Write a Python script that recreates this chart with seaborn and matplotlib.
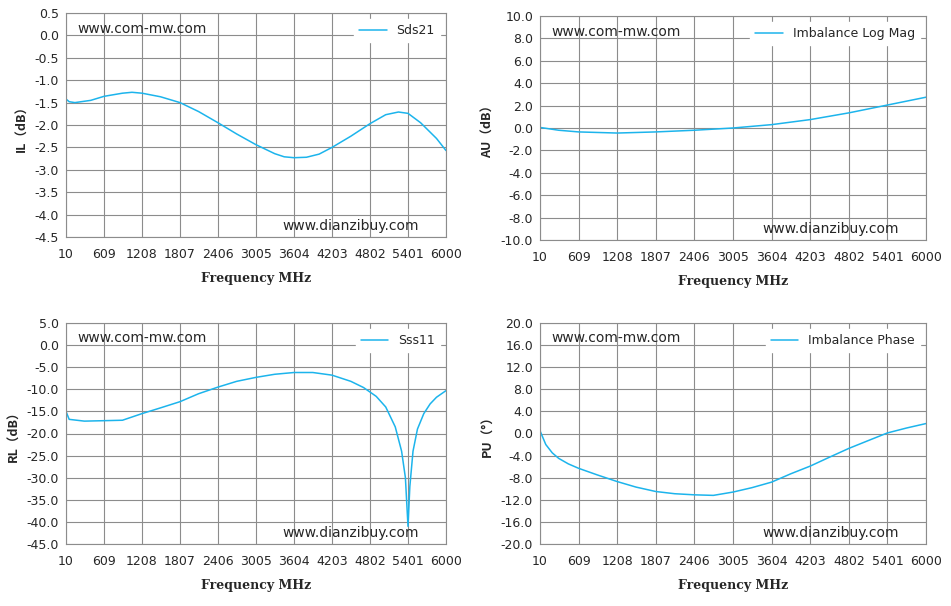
import matplotlib
matplotlib.use("Agg")
import matplotlib.pyplot as plt
import seaborn as sns
import pandas as pd
import numpy as np

sns.set_theme(style="white")
plt.rcParams['font.family'] = ['DejaVu Sans']

xticks = [10, 609, 1208, 1807, 2406, 3005, 3604, 4203, 4802, 5401, 6000]

f_il = [10, 60, 150, 400, 609, 900, 1050, 1208, 1500, 1807, 2100, 2406, 2700, 3005, 3300, 3450, 3604, 3800, 4000, 4203, 4500, 4802, 5050, 5250, 5401, 5600, 5850, 6000]
v_il = [-1.42, -1.48, -1.5, -1.45, -1.36, -1.29, -1.27, -1.29, -1.37, -1.5, -1.7, -1.95, -2.2, -2.44, -2.64, -2.71, -2.73, -2.72, -2.65, -2.5, -2.25, -1.97, -1.77, -1.71, -1.74, -1.95, -2.3, -2.57]

f_au = [10, 300, 609, 1208, 1807, 2406, 3005, 3604, 4203, 4802, 5401, 6000]
v_au = [0.05, -0.2, -0.35, -0.45, -0.35, -0.2, 0.0, 0.3, 0.75, 1.35, 2.05, 2.75]

f_rl = [10, 60, 300, 609, 900, 1208, 1500, 1807, 2100, 2406, 2700, 3005, 3300, 3604, 3900, 4203, 4500, 4700, 4900, 5050, 5200, 5300, 5360, 5401, 5430, 5480, 5550, 5650, 5750, 5850, 6000]
v_rl = [-15, -16.8, -17.2, -17.1, -17.0, -15.5, -14.2, -12.8, -11.0, -9.5, -8.2, -7.3, -6.6, -6.2, -6.2, -6.8, -8.2, -9.6, -11.6, -14, -18.5, -24, -30, -41, -32, -24, -19, -15.5, -13.3, -11.8, -10.3]

f_pu = [10, 100, 200, 300, 450, 609, 900, 1208, 1500, 1807, 2100, 2406, 2700, 3005, 3300, 3604, 3900, 4203, 4500, 4802, 5100, 5401, 5700, 6000]
v_pu = [0.5, -2, -3.5, -4.5, -5.5, -6.3, -7.5, -8.7, -9.7, -10.5, -10.9, -11.1, -11.2, -10.6, -9.8, -8.8, -7.3, -5.9, -4.3, -2.7, -1.3, 0.1, 1.0, 1.8]

panels = [
    (f_il, v_il, "Sds21", "IL\uff08dB\uff09", np.arange(-4.5, 0.51, 0.5), [66, 13, 446, 237]),
    (f_au, v_au, "Imbalance Log Mag", "AU\uff08dB\uff09", np.arange(-10, 10.1, 2), [540, 16, 926, 240]),
    (f_rl, v_rl, "Sss11", "RL\uff08dB\uff09", np.arange(-45, 5.1, 5), [66, 323, 446, 544]),
    (f_pu, v_pu, "Imbalance Phase", "PU\uff08\u00b0\uff09", np.arange(-20, 20.1, 4), [540, 323, 926, 544]),
]

W, H = 951, 606
fig = plt.figure(figsize=(W/100, H/100), dpi=100)
color = "#1CB4EC"
for f, v, name, ylab, yt, (x0, y0, x1, y1) in panels:
    ax = fig.add_axes([x0/W, 1-y1/H, (x1-x0)/W, (y1-y0)/H])
    df = pd.DataFrame({"f": f, "v": v})
    sns.lineplot(data=df, x="f", y="v", ax=ax, color=color, lw=1.1, label=name)
    ax.set_xlim(10, 6000)
    ax.set_ylim(yt[0], yt[-1])
    ax.set_xticks(xticks)
    ax.set_xticklabels([str(t) for t in xticks], fontsize=9)
    ax.set_yticks(yt)
    ax.set_yticklabels(["{:.1f}".format(t) for t in yt], fontsize=9)
    ax.grid(True, color="#8c8c8c", lw=0.8)
    for s in ax.spines.values():
        s.set_color("#8c8c8c"); s.set_linewidth(0.8)
    ax.tick_params(axis="y", length=0, pad=5)
    ax.tick_params(axis="x", length=0, pad=8)
    ax.set_xlabel("Frequency MHz", fontsize=9, fontweight="bold", family="DejaVu Serif", labelpad=8)
    ax.set_ylabel(ylab, fontsize=9, fontweight="bold", family=["Noto Sans CJK SC", "DejaVu Sans"], labelpad=4)
    ax.legend(loc="upper right", fontsize=9, frameon=True, fancybox=False,
              edgecolor="white", framealpha=1, handlelength=2.2, borderaxespad=0.5)
    ax.text(0.03, 0.93, "www.com-mw.com", transform=ax.transAxes, fontsize=10, va="center")
    ax.text(0.93, 0.02, "www.dianzibuy.com", transform=ax.transAxes, fontsize=10, ha="right", va="bottom")

fig.savefig("out.png", dpi=100)
